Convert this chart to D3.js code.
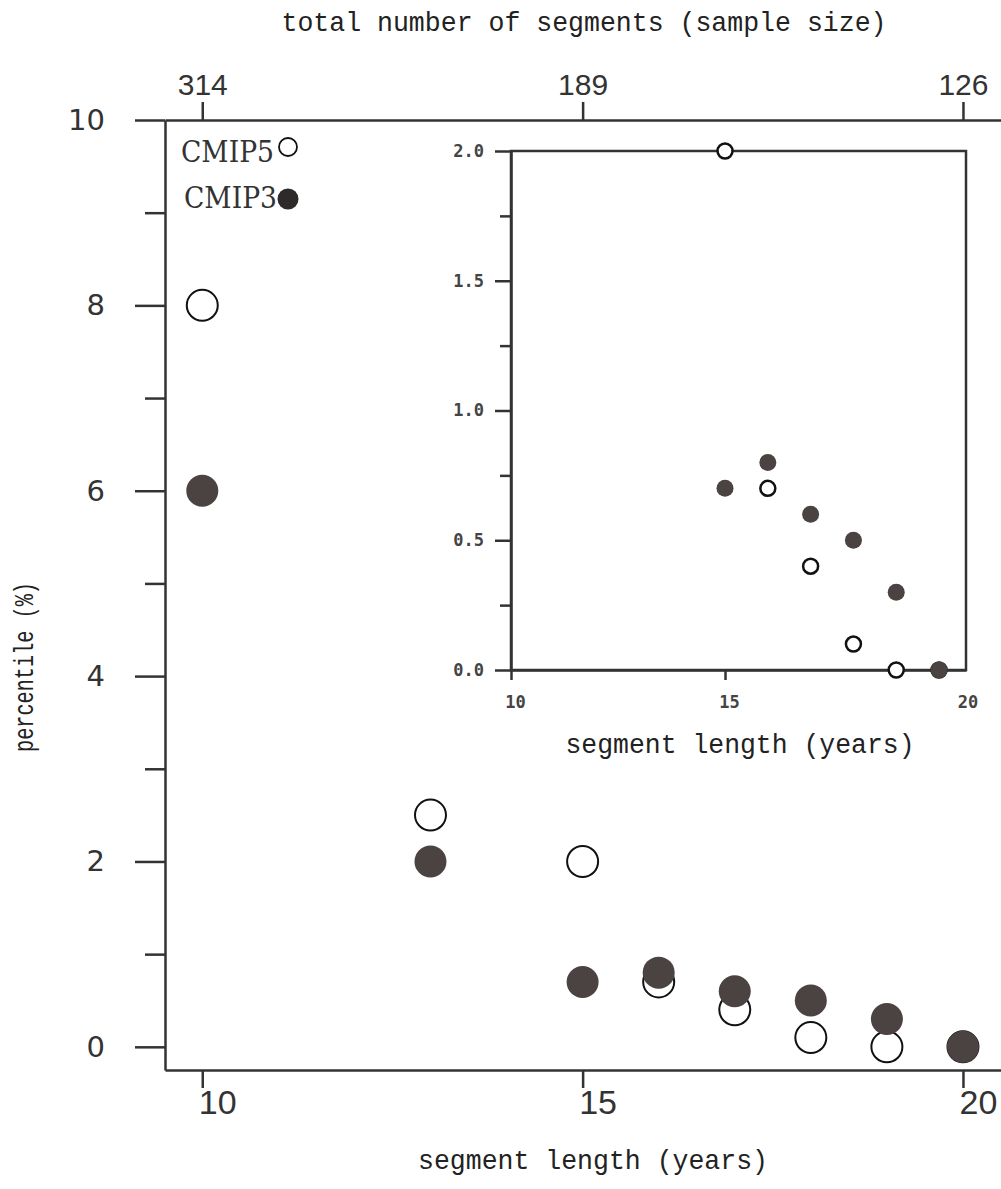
<!DOCTYPE html>
<html lang="en">
<head>
<meta charset="UTF-8">
<title>Percentile vs segment length</title>
<script src="https://cdn.jsdelivr.net/npm/d3@7/dist/d3.min.js"></script>
<style>
  * { box-sizing: border-box; }
  body { margin: 0; background: #fff; }
  svg { display: block; }
  .axis path, .axis line { stroke: #333; stroke-width: 2.5; }
  .mono { font-family: 'Liberation Mono', 'DejaVu Sans Mono', monospace; fill: #222; }
  .ylab text { font-family: 'DejaVu Sans', sans-serif; font-size: 29px; fill: #333; }
  .xlab text { font-family: 'Liberation Sans', sans-serif; font-size: 34px; fill: #333; }
  .toplab text { font-family: 'Liberation Sans', sans-serif; font-size: 30px; fill: #333; }
  .inlab text, .inlab20 { font-family: 'DejaVu Sans Mono', monospace; font-weight: bold; font-size: 17px; fill: #444; }
  .legtext { font-family: 'DejaVu Serif', serif; fill: #333; }
</style>
</head>
<body>
<div id="chart"></div>
<script>
// segment length (years) and percentile (%) for each ensemble
var segLength = [10, 13, 15, 16, 17, 18, 19, 20];
var cmip5 = [8.0, 2.5, 2.0, 0.7, 0.4, 0.1, 0.0, 0.0];
var cmip3 = [6.0, 2.0, 0.7, 0.8, 0.6, 0.5, 0.3, 0.0];

// inset: zoom on 15-20 years
var insetLength = [15, 16, 17, 18, 19, 20];
var insetCmip5 = [2.0, 0.7, 0.4, 0.1, 0.0, 0.0];
var insetCmip3 = [0.7, 0.8, 0.6, 0.5, 0.3, 0.0];

// top axis: total number of segments at a given length
var topTickLength = [10, 15, 20];
var topTickSample = [314, 189, 126];

var xTicks = [10, 15, 20];
var yTicksMajor = [0, 2, 4, 6, 8, 10];
var yTicksMinor = [1, 3, 5, 7, 9];
var insetXTicks = [10, 15, 20];
var insetYMajor = [0, 0.5, 1.0, 1.5, 2.0];
var insetYMinor = [0.25, 0.75, 1.25, 1.75];
var seriesNames = ['CMIP5', 'CMIP3'];

var W = 1001, H = 1189;
var fillDark = '#4b4242';

var svg = d3.select('#chart').append('svg').attr('width', W).attr('height', H);

// main panel scales
var x = d3.scaleLinear().domain([9.51, 20.5]).range([165, 1001]);
var y = d3.scaleLinear().domain([-0.25, 10]).range([1070, 120]);

// left axis (major + minor ticks)
svg.append('g').attr('class', 'axis ylab')
    .attr('transform', 'translate(165,0)')
    .call(d3.axisLeft(y).tickValues(yTicksMajor).tickSize(30).tickSizeOuter(0).tickPadding(30));
svg.append('g').attr('class', 'axis')
    .attr('transform', 'translate(165,0)')
    .call(d3.axisLeft(y).tickValues(yTicksMinor).tickSize(20).tickFormat(''))
    .select('.domain').remove();

// bottom axis
var bx = svg.append('g').attr('class', 'axis xlab')
    .attr('transform', 'translate(0,1070)')
    .call(d3.axisBottom(x).tickValues(xTicks).tickSize(18).tickSizeOuter(0).tickPadding(2).tickFormat(d3.format('d')));
bx.selectAll('text').attr('dx', 15);

// top axis: sample size
svg.append('g').attr('class', 'axis toplab')
    .attr('transform', 'translate(0,' + y(10) + ')')
    .call(d3.axisTop(x).tickValues(topTickLength).tickSize(18).tickSizeOuter(0).tickPadding(7)
        .tickFormat(function(d, i) { return topTickSample[i]; }));

// titles
svg.append('text').attr('class', 'mono')
    .attr('x', 584).attr('y', 31).attr('text-anchor', 'middle')
    .style('font-size', '28px')
    .attr('textLength', 605).attr('lengthAdjust', 'spacingAndGlyphs')
    .text('total number of segments (sample size)');
svg.append('text').attr('class', 'mono')
    .attr('x', 593).attr('y', 1169).attr('text-anchor', 'middle')
    .style('font-size', '28px')
    .attr('textLength', 350).attr('lengthAdjust', 'spacingAndGlyphs')
    .text('segment length (years)');
svg.append('text').attr('class', 'mono')
    .attr('transform', 'translate(33,667) rotate(-90)')
    .attr('text-anchor', 'middle')
    .style('font-size', '27px')
    .attr('textLength', 170).attr('lengthAdjust', 'spacingAndGlyphs')
    .text('percentile (%)');

// main points: open CMIP5 first, filled CMIP3 on top
var pts = segLength.map(function(d, i) { return { len: d, c5: cmip5[i], c3: cmip3[i] }; });
svg.append('g').selectAll('circle').data(pts).join('circle')
    .attr('cx', function(d) { return x(d.len); })
    .attr('cy', function(d) { return y(d.c5); })
    .attr('r', 15.5)
    .attr('fill', '#fff').attr('stroke', '#111').attr('stroke-width', 2);
svg.append('g').selectAll('circle').data(pts).join('circle')
    .attr('cx', function(d) { return x(d.len); })
    .attr('cy', function(d) { return y(d.c3); })
    .attr('r', 16)
    .attr('fill', fillDark);

// legend
var leg = svg.append('g').attr('transform', 'translate(288,147)');
var legRows = leg.selectAll('g').data(seriesNames).join('g')
    .attr('transform', function(d, i) { return 'translate(0,' + (i * 52) + ')'; });
legRows.append('text').attr('class', 'legtext')
    .attr('x', function(d, i) { return i === 0 ? -14 : -11; })
    .attr('y', function(d, i) { return i === 0 ? 15 : 9; })
    .attr('text-anchor', 'end')
    .style('font-size', '29px')
    .attr('textLength', 93).attr('lengthAdjust', 'spacingAndGlyphs')
    .text(function(d) { return d; });
legRows.append('circle')
    .attr('r', function(d, i) { return i === 0 ? 9 : 10.5; })
    .attr('fill', function(d, i) { return i === 0 ? '#fff' : '#2e2a2a'; })
    .attr('stroke', function(d, i) { return i === 0 ? '#111' : 'none'; })
    .attr('stroke-width', 1.8);

// inset panel
var xIn = d3.scaleLinear().domain([10, 20.63]).range([511, 966]);
var yIn = d3.scaleLinear().domain([0, 2]).range([670, 151]);

svg.append('rect')
    .attr('x', xIn.range()[0]).attr('y', yIn.range()[1])
    .attr('width', xIn.range()[1] - xIn.range()[0])
    .attr('height', yIn.range()[0] - yIn.range()[1])
    .attr('fill', 'none').attr('stroke', '#333').attr('stroke-width', 2.5);

svg.append('g').attr('class', 'axis inlab')
    .attr('transform', 'translate(' + xIn.range()[0] + ',0)')
    .call(d3.axisLeft(yIn).tickValues(insetYMajor).tickSize(16).tickSizeOuter(0).tickPadding(11).tickFormat(d3.format('.1f')));
svg.append('g').attr('class', 'axis')
    .attr('transform', 'translate(' + xIn.range()[0] + ',0)')
    .call(d3.axisLeft(yIn).tickValues(insetYMinor).tickSize(11).tickFormat(''))
    .select('.domain').remove();

var ix = svg.append('g').attr('class', 'axis inlab')
    .attr('transform', 'translate(0,' + yIn.range()[0] + ')')
    .call(d3.axisBottom(xIn).tickValues(insetXTicks.slice(0, 2)).tickSize(10).tickSizeOuter(0).tickPadding(16).tickFormat(d3.format('d')));
ix.selectAll('text').attr('dx', 4);
// last label of the inset sits at the right edge of the box
svg.append('text').attr('class', 'inlab20')
    .attr('x', xIn.range()[1] + 2).attr('y', yIn.range()[0] + 38)
    .attr('text-anchor', 'middle')
    .text(insetXTicks[2]);

svg.append('text').attr('class', 'mono')
    .attr('x', 740).attr('y', 753).attr('text-anchor', 'middle')
    .style('font-size', '27px')
    .attr('textLength', 349).attr('lengthAdjust', 'spacingAndGlyphs')
    .text('segment length (years)');

var ipts = insetLength.map(function(d, i) { return { len: d, c5: insetCmip5[i], c3: insetCmip3[i] }; });
svg.append('g').selectAll('circle').data(ipts).join('circle')
    .attr('cx', function(d) { return xIn(d.len); })
    .attr('cy', function(d) { return yIn(d.c5); })
    .attr('r', 7.5)
    .attr('fill', '#fff').attr('stroke', '#111').attr('stroke-width', 2.5);
svg.append('g').selectAll('circle').data(ipts).join('circle')
    .attr('cx', function(d) { return xIn(d.len); })
    .attr('cy', function(d) { return yIn(d.c3); })
    .attr('r', 8.5)
    .attr('fill', fillDark);
</script>
</body>
</html>
